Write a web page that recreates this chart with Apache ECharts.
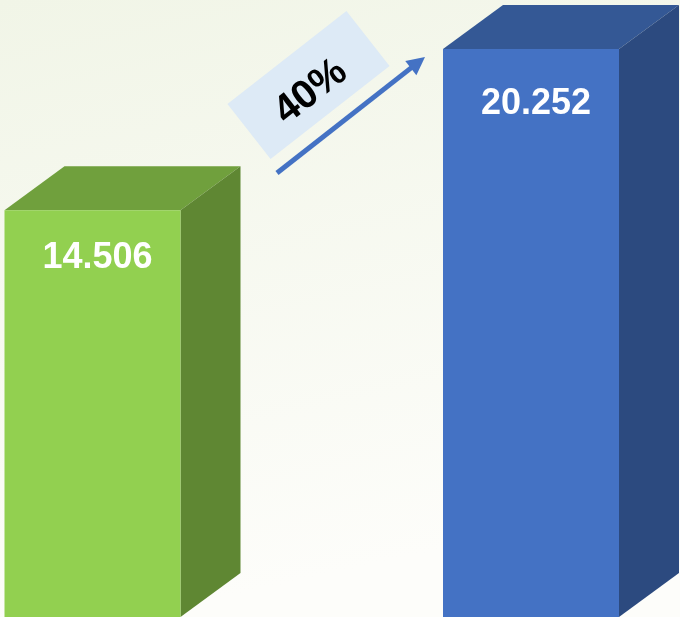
<!DOCTYPE html>
<html>
<head>
<meta charset="utf-8">
<script src="https://cdn.jsdelivr.net/npm/echarts@6/dist/echarts.min.js"></script>
<style>
html,body{margin:0;padding:0;}
#chart{width:680px;height:617px;}
</style>
</head>
<body>
<div id="chart"></div>
<script>
// ---- data ----
const categories = ['A', 'B'];
const values = [14.506, 20.252];
const valueLabels = ['14.506', '20.252'];

// ---- styles ----
const frontColors = ['#92D050', '#4472C4'];
const topColors = ['#70A03D', '#345895'];
const sideColors = ['#5F8733', '#2C4A7F'];
const labelOffsets = [48, 55];
const BAR_W = 176, DEPTH_X = 60, DEPTH_Y = 44;

const growth = Math.round((values[1] / values[0] - 1) * 100) + '%';

const chart = echarts.init(document.getElementById('chart'));
const deg = Math.PI / 180;

// arrow geometry
const tail = [277, 173], tip = [425, 57];
const ux = tip[0] - tail[0], uy = tip[1] - tail[1];
const len = Math.hypot(ux, uy);
const u = [ux / len, uy / len], n = [-u[1], u[0]];
const HL = 18, HW = 9;
const hb = [tip[0] - HL * u[0], tip[1] - HL * u[1]];

chart.setOption({
  backgroundColor: {
    type: 'linear', x: 0, y: 0, x2: 0.2, y2: 1,
    colorStops: [{offset: 0, color: '#F1F5E7'}, {offset: 1, color: '#FDFDFA'}]
  },
  grid: {left: 92.5, right: 149, top: 0, bottom: 0},
  xAxis: {type: 'category', data: categories, boundaryGap: false, show: false},
  yAxis: {type: 'value', min: 0, max: 22, show: false},
  series: [{
    type: 'custom',
    clip: false,
    data: values.map((v, i) => [i, v]),
    renderItem(params, api) {
      const i = params.dataIndex;
      const p = api.coord([api.value(0), api.value(1)]);
      const b = api.coord([api.value(0), 0]);
      const x0 = p[0] - BAR_W / 2, x1 = p[0] + BAR_W / 2, yt = p[1], yb = b[1];
      return {
        type: 'group',
        children: [
          {type: 'polygon', shape: {points: [[x0, yt], [x1, yt], [x1 + DEPTH_X, yt - DEPTH_Y], [x0 + DEPTH_X, yt - DEPTH_Y]]},
           style: {fill: topColors[i]}},
          {type: 'polygon', shape: {points: [[x1, yt], [x1 + DEPTH_X, yt - DEPTH_Y], [x1 + DEPTH_X, yb - DEPTH_Y], [x1, yb]]},
           style: {fill: sideColors[i]}},
          {type: 'rect', shape: {x: x0, y: yt, width: BAR_W, height: yb - yt},
           style: {fill: frontColors[i]}},
          {type: 'text', x: p[0] + 5, y: yt + labelOffsets[i],
           style: {text: valueLabels[i], fill: '#FFFFFF', font: 'bold 36px "Liberation Sans", Arial, sans-serif',
                   align: 'center', verticalAlign: 'middle'}}
        ]
      };
    }
  }],
  graphic: [
    {type: 'rect', x: 308.5, y: 85, rotation: 38 * deg,
     shape: {x: -75.5, y: -35, width: 151, height: 70},
     style: {fill: '#DDEAF6'}},
    {type: 'text', x: 311, y: 92, rotation: 38 * deg,
     style: {text: growth, fill: '#000000', font: 'bold 40px "Liberation Sans", Arial, sans-serif',
             align: 'center', verticalAlign: 'middle'}},
    {type: 'line', shape: {x1: tail[0], y1: tail[1], x2: hb[0] + 2 * u[0], y2: hb[1] + 2 * u[1]},
     style: {stroke: '#4472C4', lineWidth: 5}},
    {type: 'polygon', shape: {points: [tip, [hb[0] + HW * n[0], hb[1] + HW * n[1]], [hb[0] - HW * n[0], hb[1] - HW * n[1]]]},
     style: {fill: '#4472C4'}}
  ]
});
</script>
</body>
</html>
